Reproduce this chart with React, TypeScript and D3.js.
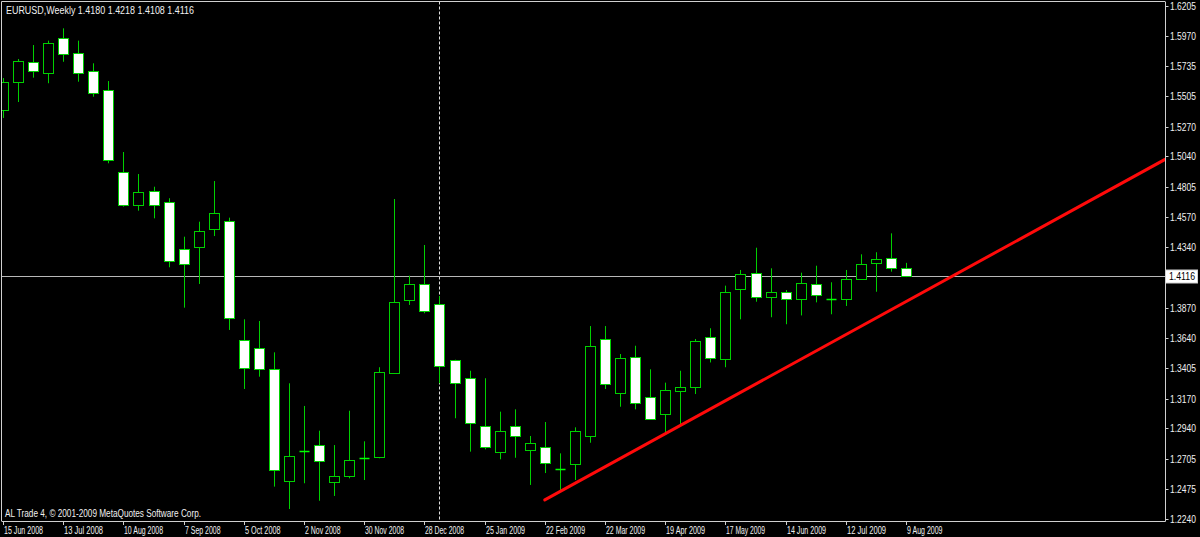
import React from 'react';
import * as d3 from 'd3';

const symbol = 'EURUSD,Weekly';

const opens = [
  1.5398, 1.5612, 1.5771, 1.5686, 1.5957, 1.5839, 1.57, 1.5553, 1.492, 1.4665,
  1.4775, 1.4686, 1.4325, 1.4338, 1.4482, 1.4544, 1.3622, 1.3558, 1.3398, 1.2536,
  1.276, 1.2811, 1.2528, 1.2574, 1.2708, 1.2721, 1.3365, 1.3931, 1.4055, 1.3898,
  1.3466, 1.3327, 1.2958, 1.276, 1.2958, 1.2773, 1.2798, 1.2626, 1.2665, 1.2883,
  1.3628, 1.3215, 1.3489, 1.3184, 1.3049, 1.3231, 1.3262, 1.3642, 1.3473, 1.4014,
  1.4137, 1.3957, 1.3991, 1.3937, 1.4055, 1.3941, 1.3937, 1.4091, 1.4215, 1.4258,
  1.418,
];
const highs = [
  1.5645, 1.5792, 1.59, 1.5934, 1.6029, 1.5934, 1.5759, 1.5622, 1.5074, 1.4904,
  1.4806, 1.4717, 1.442, 1.4536, 1.485, 1.4567, 1.3782, 1.3769, 1.3527, 1.3288,
  1.3113, 1.2922, 1.2811, 1.3076, 1.284, 1.3412, 1.4711, 1.4119, 1.4356, 1.3962,
  1.347, 1.3385, 1.3327, 1.3069, 1.3087, 1.2881, 1.2989, 1.2747, 1.2948, 1.373,
  1.373, 1.3514, 1.3578, 1.3396, 1.3293, 1.3385, 1.363, 1.3713, 1.4042, 1.4163,
  1.4335, 1.4176, 1.4008, 1.4142, 1.4196, 1.4068, 1.4163, 1.4284, 1.43, 1.4446,
  1.4218,
];
const lows = [
  1.5337, 1.546, 1.5648, 1.5605, 1.5771, 1.5617, 1.5501, 1.4987, 1.4652, 1.4621,
  1.4562, 1.4184, 1.3872, 1.4055, 1.4425, 1.37, 1.3244, 1.3339, 1.249, 1.2317,
  1.2516, 1.2381, 1.2418, 1.2554, 1.2541, 1.2709, 1.336, 1.3893, 1.3829, 1.3288,
  1.3018, 1.276, 1.2778, 1.2701, 1.2713, 1.2503, 1.2595, 1.2464, 1.2541, 1.2829,
  1.3244, 1.3107, 1.3087, 1.3005, 1.2902, 1.2974, 1.3205, 1.3449, 1.3412, 1.3782,
  1.3918, 1.3798, 1.3744, 1.3812, 1.3913, 1.3821, 1.3885, 1.4086, 1.3995, 1.415,
  1.4108,
];
const closes = [
  1.5615, 1.5779, 1.57, 1.5913, 1.5831, 1.5686, 1.5532, 1.5012, 1.4667, 1.4763,
  1.4662, 1.4232, 1.4209, 1.4464, 1.4601, 1.3795, 1.3408, 1.3401, 1.2616, 1.2724,
  1.2762, 1.2688, 1.257, 1.2696, 1.271, 1.3373, 1.3913, 1.4052, 1.3846, 1.3424,
  1.3288, 1.2979, 1.2794, 1.2922, 1.2883, 1.2825, 1.267, 1.2627, 1.2922, 1.3576,
  1.3283, 1.3481, 1.3138, 1.3012, 1.3236, 1.3262, 1.3618, 1.3481, 1.3991, 1.413,
  1.3952, 1.3991, 1.3939, 1.4066, 1.3968, 1.3942, 1.4091, 1.4209, 1.4245, 1.4178,
  1.4116,
];

const priceTicks = [
  1.6205, 1.597, 1.5735, 1.5505, 1.527, 1.504, 1.4805, 1.457, 1.434,
  1.387, 1.364, 1.3405, 1.317, 1.294, 1.2705, 1.2475, 1.224,
];
const bidPrice = 1.4116;

const dateLabels = [
  '15 Jun 2008', '13 Jul 2008', '10 Aug 2008', '7 Sep 2008', '5 Oct 2008',
  '2 Nov 2008', '30 Nov 2008', '28 Dec 2008', '25 Jan 2009', '22 Feb 2009',
  '22 Mar 2009', '19 Apr 2009', '17 May 2009', '14 Jun 2009', '12 Jul 2009',
  '9 Aug 2009',
];
const dateLabelBars = [0, 4, 8, 12, 16, 20, 24, 28, 32, 36, 40, 44, 48, 52, 56, 60];
const separatorBar = 29;
const trendBars = [36, 60];
const trendPrices = [1.23875, 1.39188];
const copyright = 'AL Trade 4, \u00a9 2001-2009 MetaQuotes Software Corp.';

const FONT = '"Liberation Sans", Arial, sans-serif';
const GREEN = '#00d000';
const TEXT = '#f0f0f0';
const AXIS = '#d0d0d0';

export default function App() {
  const W = 1200;
  const H = 537;
  const left = 1.5;
  const top = 1.5;
  const right = 1165;
  const bottom = 521;

  const x = d3.scaleLinear().domain([0, 60]).range([3, 906]);
  const y = d3.scaleLinear().domain([1.22246, 1.62324]).range([521, 2]);

  const n = opens.length;
  const last = n - 1;
  const title = `${symbol}  ${opens[last].toFixed(4)} ${highs[last].toFixed(4)} ${lows[last].toFixed(4)} ${closes[last].toFixed(4)}`;

  const halfBody = 5;

  // trend line ray extended to the right border
  const tx1 = x(trendBars[0]);
  const ty1 = y(trendPrices[0]);
  const tx2 = x(trendBars[1]);
  const ty2 = y(trendPrices[1]);
  const slope = (ty2 - ty1) / (tx2 - tx1);
  const txEnd = right;
  const tyEnd = ty1 + slope * (txEnd - tx1);

  const bidY = Math.round(y(bidPrice)) + 0.5;

  return (
    <svg
      width={W}
      height={H}
      style={{ position: 'absolute', left: 0, top: 0, display: 'block', background: '#000' }}
    >
      <rect x={0} y={0} width={W} height={H} fill="#000" />
      <defs>
        <clipPath id="plot">
          <rect x={2} y={2} width={right - 2} height={bottom - 2} />
        </clipPath>
      </defs>

      {/* frame */}
      <line x1={left} y1={top} x2={right} y2={top} stroke={AXIS} strokeWidth={1} />
      <line x1={left} y1={top} x2={left} y2={bottom} stroke={AXIS} strokeWidth={1} />
      <line x1={right + 0.5} y1={top} x2={right + 0.5} y2={bottom + 0.5} stroke={AXIS} strokeWidth={1} />
      <line x1={left} y1={bottom + 0.5} x2={right + 0.5} y2={bottom + 0.5} stroke={AXIS} strokeWidth={1} />

      <g clipPath="url(#plot)">
        {/* period separator */}
        <line
          x1={Math.round(x(separatorBar)) + 0.5}
          x2={Math.round(x(separatorBar)) + 0.5}
          y1={top}
          y2={bottom}
          stroke="#e0e0e0"
          strokeWidth={1}
          strokeDasharray="3,2"
        />
        {/* bid line */}
        <line x1={left} x2={right} y1={bidY} y2={bidY} stroke="#b8b8b8" strokeWidth={1} />

        {/* candles */}
        {opens.map((o, i) => {
          const c = closes[i];
          const cx = Math.round(x(i)) + 0.5;
          const yo = y(o);
          const yc = y(c);
          const yh = y(highs[i]);
          const yl = y(lows[i]);
          const bull = c >= o;
          const yTop = Math.round(Math.min(yo, yc)) + 0.5;
          const yBot = Math.round(Math.max(yo, yc)) + 0.5;
          const doji = Math.abs(yo - yc) < 1.5;
          return (
            <g key={i}>
              <line x1={cx} x2={cx} y1={yh} y2={yl} stroke={GREEN} strokeWidth={1} />
              {doji ? (
                <line
                  x1={cx - halfBody}
                  x2={cx + halfBody}
                  y1={yTop}
                  y2={yTop}
                  stroke="#00ff00"
                  strokeWidth={1.5}
                />
              ) : (
                <rect
                  x={cx - halfBody}
                  y={yTop}
                  width={halfBody * 2}
                  height={yBot - yTop}
                  fill={bull ? '#000' : '#fff'}
                  stroke={GREEN}
                  strokeWidth={1}
                />
              )}
            </g>
          );
        })}

        {/* trend line */}
        <line
          x1={tx1}
          y1={ty1}
          x2={txEnd}
          y2={tyEnd}
          stroke="#ff0a0a"
          strokeWidth={3}
          strokeLinecap="round"
        />
      </g>

      {/* title */}
      <text x={6} y={13.5} fill={TEXT} fontFamily={FONT} fontSize={10} textLength={188} lengthAdjust="spacingAndGlyphs">
        {title}
      </text>
      {/* copyright */}
      <text x={5} y={516.5} fill={TEXT} fontFamily={FONT} fontSize={10} textLength={196} lengthAdjust="spacingAndGlyphs">
        {copyright}
      </text>

      {/* price axis */}
      {priceTicks.map((p, i) => {
        const ty = Math.round(y(p)) + 0.5;
        return (
          <g key={'p' + i}>
            <line x1={right + 0.5} x2={right + 3.5} y1={ty} y2={ty} stroke={AXIS} strokeWidth={1} />
            <text
              x={1170}
              y={ty + 3.5}
              fill={TEXT}
              fontFamily={FONT}
              fontSize={10}
              textLength={26}
              lengthAdjust="spacingAndGlyphs"
            >
              {p.toFixed(4)}
            </text>
          </g>
        );
      })}
      {/* bid label */}
      <rect x={1165.5} y={bidY - 6.5} width={32} height={13} fill="#ffffff" stroke="#d0d0d0" strokeWidth={1} />
      <text
        x={1169}
        y={bidY + 3.5}
        fill="#000"
        fontFamily={FONT}
        fontSize={10}
        textLength={26}
        lengthAdjust="spacingAndGlyphs"
      >
        {bidPrice.toFixed(4)}
      </text>

      {/* time axis */}
      {dateLabels.map((lab, i) => {
        const tx = Math.round(x(dateLabelBars[i])) + 0.5;
        return (
          <g key={'d' + i}>
            <line x1={tx} x2={tx} y1={bottom + 0.5} y2={bottom + 4} stroke={AXIS} strokeWidth={1} />
            <text
              x={tx + 0.5}
              y={534}
              fill={TEXT}
              fontFamily={FONT}
              fontSize={10}
              textLength={lab.length * 3.55}
              lengthAdjust="spacingAndGlyphs"
            >
              {lab}
            </text>
          </g>
        );
      })}
    </svg>
  );
}
